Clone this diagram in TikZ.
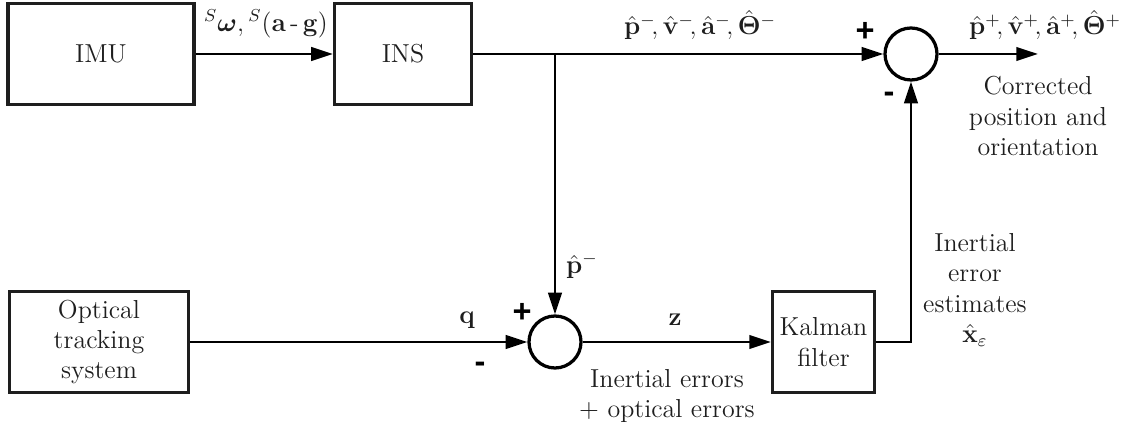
\documentclass[tikz,border=0pt]{standalone}
\usepackage{amsmath}
\usepackage{bm}
\usepackage[no-math]{fontspec}
\newfontfamily\signfont{Liberation Sans}
\usepackage{tikz}
\usetikzlibrary{
  arrows.meta,
  positioning,
  calc
}
\usepackage{xcolor}
\definecolor{lineclr}{RGB}{0, 0, 0}
\definecolor{txtclr}{RGB}{30, 30, 30}
\tikzset{
  % Bloklar
  block/.style     = {draw=lineclr, line width=1.5pt, rectangle, align=center,
                      inner sep=2pt, font=\fontsize{12}{14}\selectfont, txtclr},
  sumnode/.style   = {draw=lineclr, line width=1.5pt, circle, minimum size=24pt,
                      inner sep=0pt},
  % Signal chiziqlari
  sigline/.style   = {line width=1.25pt, draw=lineclr,
                      -{Triangle[length=10pt, width=6.2pt]}},
  % Etiketlar
  lab/.style       = {font=\fontsize{12}{14}\selectfont, align=center,
                      inner sep=1pt, txtclr},
  signlab/.style   = {font=\signfont\bfseries\fontsize{15}{16}\selectfont,
                      inner sep=0pt},
}

\begin{document}
\begin{tikzpicture}[x=0.4615pt, y=-0.4615pt]
  \useasboundingbox (0,0) rectangle (1123,429);
  % bloklar
  \node[block, minimum width=85.8pt, minimum height=46.6pt] (imu) at (101,54) {IMU};
  \node[block, minimum width=63.2pt, minimum height=46.6pt] (ins) at (403,54) {INS};
  \node[block, minimum width=82.6pt, minimum height=46.6pt] (opt) at (99,342)
    {Optical\\tracking\\system};
  \node[block, minimum width=47pt, minimum height=46.6pt] (kal) at (823.5,342)
    {Kalman\\filter};
  % yig'uvchilar
  \node[sumnode] (sumtop) at (911,54) {};
  \node[sumnode] (sumbot) at (555,342) {};
  \coordinate (br) at (555,54);
  \coordinate (out) at (1038,54);
  % signallar
  \draw[sigline] (imu) -- (ins);
  \draw[sigline] (ins) -- (sumtop);
  \draw[sigline] (br) -- (sumbot);
  \draw[sigline] (sumtop) -- (out);
  \draw[sigline] (opt) -- (sumbot);
  \draw[sigline] (sumbot) -- (kal);
  \draw[sigline] (kal.east) -| (sumtop.south);
  % belgilar
  \node[lab] (lomega) at (266,24) {${}^{S}\bm{\omega},{}^{S}\mathbf{(a\,\text{-}\,g)}$};
  \node[lab] (lminus) at (700,25)
    {$\hat{\mathbf{p}}^{-}\!,\hat{\mathbf{v}}^{-}\!,\hat{\mathbf{a}}^{-}\!,\hat{\bm{\Theta}}^{-}$};
  \node[lab] (lplus) at (1045,25)
    {$\hat{\mathbf{p}}^{+}\!,\hat{\mathbf{v}}^{+}\!,\hat{\mathbf{a}}^{+}\!,\hat{\bm{\Theta}}^{+}$};
  \node[lab] (lcorr) at (1038,116) {Corrected\\position and\\orientation};
  \node[lab] (lq) at (467,320) {$\mathbf{q}$};
  \node[lab] (lpm) at (582,266) {$\hat{\mathbf{p}}^{-}$};
  \node[lab] (lz) at (675,320) {$\mathbf{z}$};
  \node[lab] (lerr) at (667,396) {Inertial errors\\$+$ optical errors};
  \node[lab] (lest) at (975,290)
    {Inertial\\error\\estimates\\$\hat{\mathbf{x}}_{\varepsilon}$};
  % ishoralar
  \node[signlab] (ptop) at (865,32) {+};
  \node[signlab] (mtop) at (889,97) {-};
  \node[signlab] (pbot) at (522,313) {+};
  \node[signlab] (mbot) at (480,367) {-};
\end{tikzpicture}
\end{document}
